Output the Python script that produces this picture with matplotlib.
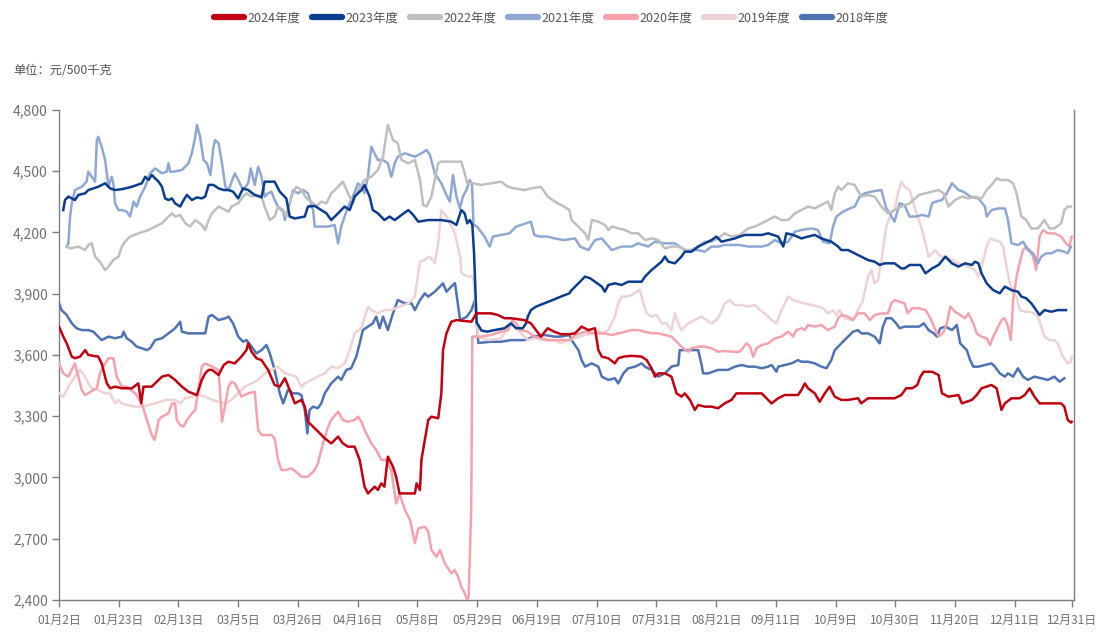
import matplotlib
matplotlib.use("Agg")
import matplotlib.pyplot as plt
from matplotlib.lines import Line2D
from matplotlib.ticker import FuncFormatter

plt.rcParams['font.family'] = ['Noto Sans CJK SC', 'DejaVu Sans']

# x axis: day index on the category axis (tick every 21 days)
tick_pos = [0, 21, 42, 63, 84, 105, 126, 147, 168, 189, 210, 231, 252, 273, 294, 315, 336, 356]
tick_labels = ["01月2日", "01月23日", "02月13日", "03月5日", "03月26日", "04月16日", "05月8日",
               "05月29日", "06月19日", "07月10日", "07月31日", "08月21日", "09月11日", "10月9日",
               "10月30日", "11月20日", "12月11日", "12月31日"]
y_ticks = [2400, 2700, 3000, 3300, 3600, 3900, 4200, 4500, 4800]

names = ["2024年度", "2023年度", "2022年度", "2021年度", "2020年度", "2019年度", "2018年度"]
colors = ["#C00010", "#0B3D8E", "#BFBFBF", "#8EA8D3", "#F4A2AC", "#EDD3D5", "#4E72B2"]

y2024_x = [0, 1.5, 2.7, 4.5, 5.6, 7.4, 9.2, 10.3, 13.8, 15.0, 16.8, 18.0, 19.7, 22.1, 25.6, 27.9, 28.9, 29.7,
           32.6, 36.2, 38.5, 40.8, 43.2, 45.5, 48.5, 50.2, 51.4, 52.6, 53.8, 56.1, 57.9, 59.6,
           61.8, 64.1, 65.9, 66.5, 67.7, 69.4, 71.2, 73.5, 75.8, 77.6, 79.4, 81.1, 82.9, 85.2, 86.4, 87.5,
           90.5, 93.4, 95.7, 98.1, 99.8, 101.6, 103.9, 105.7, 107.4, 108.6, 111.0, 112.1, 113.3, 114.4,
           115.6, 117.4, 118.5, 119.7, 120.4, 125.1, 125.7, 126.9, 127.4, 129.8, 130.9, 133.3, 134.4,
           135.0, 136.2, 137.9, 139.7, 145.0, 146.7, 151.9, 154.3, 156.6, 158.9, 163.6, 165.9, 167.7,
           169.4, 171.8, 174.1, 176.4, 179.4, 181.4, 183.7, 186.1, 188.4, 189.6, 190.8, 193.1, 195.4,
           196.6, 198.4, 201.3, 204.8, 206.6, 208.3, 209.5, 210.7, 213.0, 215.3, 217.1, 218.8, 220.0,
           221.8, 223.5, 224.7, 227.0, 229.4, 231.7, 234.0, 236.4, 238.1, 239.9, 242.3, 244.6, 247.0,
           249.3, 250.5, 252.8, 255.1, 259.8, 261.0, 262.2, 263.3, 265.7, 267.4, 269.2, 270.9, 272.7,
           275.0, 277.4, 280.9, 282.0, 284.4, 287.9, 290.2, 293.7, 296.1, 297.8, 299.9, 301.7, 302.8,
           304.0, 306.9, 309.2, 310.4, 312.7, 316.2, 317.4, 320.9, 322.6, 324.3, 327.8, 329.6, 331.3,
           332.5, 334.8, 337.7, 339.5, 341.2, 342.9, 344.7, 346.4, 349.3, 352.3, 353.4, 354.6, 355.7, 356]
y2024_v = [3739, 3690, 3657, 3592, 3584, 3592, 3624, 3600, 3592, 3559, 3461, 3437, 3445, 3437, 3437, 3461, 3363, 3445,
           3445, 3494, 3502, 3478, 3445, 3420, 3404, 3478, 3510, 3527, 3527, 3502, 3551, 3567,
           3559, 3592, 3624, 3657, 3616, 3584, 3575, 3527, 3453, 3445, 3486, 3429, 3363, 3380, 3347, 3273,
           3233, 3192, 3167, 3200, 3167, 3151, 3151, 3086, 2955, 2922, 2955, 2939, 2971, 2955,
           3102, 3053, 3004, 2922, 2922, 2922, 2971, 2939, 3086, 3282, 3298, 3290, 3412,
           3624, 3706, 3763, 3771, 3763, 3804, 3804, 3796, 3780, 3780, 3771, 3755, 3722,
           3690, 3731, 3714, 3702, 3702, 3706, 3739, 3722, 3731, 3624, 3592, 3584, 3559,
           3584, 3592, 3596, 3592, 3575, 3535, 3494, 3510, 3510, 3494, 3412, 3396, 3412,
           3380, 3331, 3355, 3347, 3347, 3339, 3363, 3380, 3412, 3412, 3412, 3412, 3412,
           3380, 3363, 3388, 3404, 3404, 3429, 3461, 3437, 3412, 3371, 3412, 3445, 3396,
           3380, 3380, 3388, 3363, 3388, 3388, 3388, 3388, 3404, 3437, 3437, 3453, 3494,
           3518, 3518, 3502, 3412, 3396, 3404, 3363, 3380, 3404, 3437, 3453, 3437, 3331,
           3363, 3388, 3388, 3404, 3437, 3396, 3363, 3363, 3363, 3363, 3347, 3282, 3269, 3273]

y2023_x = [1.5, 2.1, 3.3, 4.5, 5.6, 6.8, 9.2, 10.3, 12.1, 13.8, 16.2, 18.0, 19.7, 22.1, 25.6, 29.1, 30.3, 31.5,
           32.6, 33.8, 35.0, 36.2, 37.3, 38.5, 39.7, 40.8, 42.6, 43.8, 45.0, 46.7, 48.5, 50.2, 51.4, 52.6,
           54.3, 56.1, 57.9, 59.6, 61.2, 63.0, 64.7, 66.5, 68.8, 71.2, 72.3, 75.8, 77.6, 79.9, 81.1, 82.9,
           86.4, 87.5, 89.9, 92.2, 94.0, 95.7, 98.1, 100.4, 102.2, 103.9, 106.3, 107.4, 109.2, 110.3,
           112.1, 114.4, 116.2, 118.0, 119.7, 120.4, 122.8, 124.5, 126.3, 129.8, 134.4, 137.9, 139.7,
           141.4, 142.6, 143.5, 144.4, 145.3, 145.9, 146.8, 148.5, 150.5, 153.1, 156.6, 158.9, 160.7,
           163.0, 164.2, 164.8, 165.9, 167.7, 170.6, 173.5, 176.4, 179.4, 180.2, 182.6, 184.9, 186.7,
           188.4, 190.8, 191.9, 193.1, 195.4, 197.8, 200.1, 204.8, 206.0, 208.3, 211.8, 213.0, 214.2,
           216.5, 218.8, 220.0, 222.3, 224.7, 227.0, 229.4, 231.1, 232.9, 235.2, 237.6, 239.3, 241.1,
           244.6, 247.0, 249.3, 252.8, 254.6, 255.7, 258.1, 261.0, 263.3, 265.7, 268.0, 271.5, 273.9,
           275.0, 277.4, 279.7, 282.0, 284.4, 286.7, 288.5, 290.2, 293.7, 296.1, 297.2, 299.0, 302.8,
           304.6, 306.9, 309.2, 311.6, 313.9, 316.2, 318.5, 320.9, 322.0, 323.2, 324.3, 326.1, 328.4,
           330.7, 332.5, 334.8, 337.1, 338.3, 340.0, 341.8, 343.5, 344.7, 346.4, 348.8, 351.1, 352.9, 354.0]
y2023_v = [4310, 4359, 4376, 4367, 4359, 4384, 4392, 4408, 4416, 4424, 4441, 4416, 4408, 4412, 4424, 4441, 4473, 4457,
           4482, 4465, 4449, 4424, 4367, 4359, 4367, 4343, 4327, 4359, 4384, 4359, 4372, 4367, 4376, 4433,
           4433, 4416, 4408, 4408, 4400, 4367, 4416, 4408, 4384, 4372, 4449, 4449, 4400, 4367, 4278, 4269,
           4278, 4327, 4330, 4310, 4294, 4261, 4294, 4327, 4310, 4376, 4408, 4433, 4376, 4310,
           4294, 4261, 4278, 4261, 4278, 4286, 4310, 4286, 4253, 4261, 4261, 4253, 4237,
           4310, 4294, 4245, 4261, 4237, 4100, 3760, 3720, 3714, 3722, 3731, 3755, 3731,
           3731, 3755, 3788, 3820, 3837, 3853, 3869, 3886, 3902, 3918, 3951, 3984, 3976,
           3959, 3935, 3910, 3943, 3951, 3943, 3959, 3959, 3984, 4016, 4057, 4082, 4057,
           4049, 4082, 4106, 4106, 4131, 4147, 4163, 4180, 4155, 4163, 4171, 4180, 4188,
           4188, 4188, 4196, 4180, 4131, 4196, 4188, 4171, 4180, 4188, 4171, 4155, 4131,
           4114, 4114, 4098, 4082, 4065, 4057, 4041, 4049, 4049, 4024, 4024, 4041, 4041,
           4000, 4024, 4041, 4082, 4049, 4033, 4049, 4041, 4057, 4049, 4000, 3951, 3918,
           3902, 3935, 3918, 3910, 3886, 3878, 3853, 3820, 3796, 3820, 3812, 3820, 3820, 3820]

y2022_x = [2.7, 3.9, 6.8, 9.2, 10.3, 11.5, 12.7, 14.4, 16.2, 17.4, 19.1, 20.9, 22.1, 23.2, 25.0, 27.9, 31.5, 33.8,
           36.2, 38.5, 39.7, 40.8, 42.6, 44.4, 46.1, 47.9, 50.2, 51.4, 52.6, 53.8, 56.1, 58.5, 59.6,
           60.6, 63.0, 64.7, 65.9, 67.7, 69.4, 71.2, 72.3, 74.1, 75.8, 77.0, 78.8, 79.9, 81.7, 83.4, 85.2,
           87.0, 88.7, 90.5, 92.2, 94.0, 95.7, 98.1, 99.8, 101.6, 103.3, 105.1, 107.4, 109.8, 112.1,
           113.9, 115.6, 117.4, 119.1, 120.4, 122.8, 125.1, 126.9, 128.0, 129.2, 130.9, 133.3, 134.4,
           141.4, 142.6, 143.5, 145.5, 148.4, 151.9, 155.4, 157.8, 160.1, 163.6, 165.9, 169.4, 171.8,
           173.5, 175.3, 177.6, 179.4, 180.2, 181.4, 183.2, 184.9, 186.1, 187.3, 189.6, 191.9, 193.1,
           194.3, 196.6, 199.0, 201.3, 203.6, 206.0, 208.3, 210.7, 213.0, 215.3, 217.7, 220.0, 222.3,
           224.7, 227.0, 229.4, 231.7, 234.0, 236.4, 239.3, 242.3, 244.6, 247.0, 249.3, 251.6, 254.0,
           256.3, 258.7, 261.0, 263.3, 265.7, 268.0, 270.3, 271.5, 272.7, 273.9, 275.0, 277.4, 279.7,
           282.0, 284.4, 286.7, 289.1, 291.4, 293.7, 296.1, 299.0, 302.3, 304.6, 306.9, 309.2, 311.0,
           312.7, 315.0, 317.4, 319.7, 322.0, 324.3, 326.1, 327.8, 329.6, 331.3, 333.6, 335.4, 336.6,
           338.3, 340.0, 341.8, 344.1, 346.4, 348.2, 349.9, 352.3, 353.4, 354.6, 355.7]
y2022_v = [4131, 4122, 4131, 4114, 4139, 4147, 4082, 4057, 4016, 4033, 4065, 4082, 4131, 4155, 4180, 4196, 4212, 4229,
           4245, 4278, 4294, 4278, 4286, 4245, 4229, 4261, 4237, 4212, 4261, 4294, 4327, 4310, 4302,
           4327, 4343, 4376, 4392, 4376, 4384, 4376, 4327, 4261, 4278, 4327, 4310, 4278, 4376, 4424, 4408,
           4367, 4351, 4327, 4351, 4343, 4392, 4424, 4449, 4392, 4343, 4408, 4457, 4473, 4506,
           4571, 4727, 4653, 4637, 4555, 4539, 4555, 4457, 4335, 4327, 4376, 4539, 4547,
           4547, 4490, 4441, 4441, 4433, 4441, 4449, 4424, 4416, 4408, 4416, 4424, 4376,
           4359, 4343, 4327, 4310, 4261, 4245, 4220, 4196, 4163, 4261, 4253, 4237, 4212,
           4229, 4220, 4212, 4196, 4196, 4163, 4171, 4163, 4122, 4131, 4131, 4114, 4114,
           4131, 4155, 4155, 4171, 4196, 4180, 4188, 4220, 4229, 4245, 4261, 4278, 4261,
           4261, 4294, 4310, 4327, 4318, 4335, 4351, 4310, 4392, 4424, 4408, 4441, 4433,
           4376, 4384, 4376, 4327, 4294, 4310, 4327, 4343, 4384, 4392, 4400, 4408, 4392,
           4327, 4359, 4376, 4367, 4376, 4367, 4408, 4433, 4465, 4457, 4457, 4441, 4392,
           4278, 4261, 4220, 4220, 4261, 4220, 4220, 4245, 4310, 4327, 4327]

y2021_x = [2.7, 3.3, 3.9, 4.5, 5.6, 8.0, 9.7, 10.3, 11.5, 12.7, 13.3, 13.8, 15.0, 16.2, 17.4, 18.5, 19.1, 19.7,
           20.9, 22.1, 23.8, 25.0, 26.2, 27.3, 28.5, 30.3, 32.0, 33.8, 36.2, 37.9, 38.5, 39.1, 40.3, 43.2,
           45.5, 46.7, 47.9, 48.5, 49.6, 50.8, 52.0, 53.2, 54.3, 54.9, 56.1, 57.3, 58.5, 59.6, 61.8, 63.0,
           64.7, 66.5, 67.4, 68.8, 70.0, 71.2, 72.3, 73.5, 74.7, 75.8, 77.0, 78.8, 79.4, 80.5, 82.3, 84.0,
           85.8, 87.5, 89.3, 89.9, 92.2, 94.6, 96.9, 98.1, 99.2, 100.4, 101.6, 103.3, 105.1, 106.3, 107.4,
           108.6, 109.8, 110.9, 112.1, 113.9, 115.6, 116.8, 118.0, 119.1, 121.6, 125.1, 127.4, 129.2,
           130.4, 132.1, 134.4, 136.2, 137.4, 138.5, 139.7, 140.9, 142.0, 143.2, 144.4, 145.2, 145.7,
           147.0, 149.6, 151.4, 152.5, 155.4, 158.4, 160.7, 162.4, 164.2, 165.9, 167.1, 168.9, 171.8,
           174.1, 177.6, 181.4, 183.2, 186.1, 188.4, 190.8, 194.3, 197.8, 201.3, 203.6, 207.1, 209.5,
           213.0, 216.5, 220.0, 224.7, 227.0, 229.4, 231.7, 234.0, 236.4, 239.3, 242.3, 247.0, 249.3,
           251.6, 254.0, 256.3, 258.7, 261.0, 264.5, 266.8, 268.6, 270.9, 272.1, 273.3, 275.6, 278.0,
           279.7, 281.5, 283.2, 285.6, 289.1, 290.8, 292.0, 293.7, 295.5, 297.2, 299.0, 301.1, 303.4,
           305.7, 306.9, 308.1, 310.4, 312.1, 313.9, 316.2, 317.9, 320.3, 323.2, 325.5, 326.1, 327.8,
           330.2, 332.5, 333.6, 334.8, 337.1, 338.9, 340.6, 342.4, 344.1, 345.3, 347.0, 348.8, 351.1,
           353.4, 354.6, 355.7]
y2021_v = [4131, 4147, 4278, 4343, 4408, 4424, 4449, 4498, 4473, 4449, 4653, 4669, 4620, 4555, 4424, 4473, 4441, 4343,
           4310, 4310, 4302, 4278, 4351, 4327, 4376, 4424, 4490, 4514, 4490, 4498, 4539, 4498, 4498, 4506,
           4539, 4588, 4669, 4727, 4669, 4555, 4539, 4482, 4620, 4653, 4637, 4539, 4424, 4408, 4490, 4457,
           4408, 4441, 4514, 4433, 4522, 4473, 4376, 4392, 4400, 4359, 4327, 4302, 4261, 4310, 4408, 4392,
           4408, 4392, 4310, 4229, 4229, 4229, 4237, 4147, 4229, 4278, 4327, 4376, 4441, 4424, 4392,
           4473, 4620, 4588, 4555, 4555, 4539, 4473, 4539, 4571, 4588, 4571, 4588, 4604,
           4580, 4490, 4441, 4384, 4351, 4482, 4376, 4318, 4376, 4408, 4457, 4433, 4240,
           4228, 4180, 4131, 4180, 4188, 4196, 4229, 4237, 4245, 4253, 4188, 4180, 4180,
           4171, 4163, 4171, 4131, 4114, 4163, 4171, 4114, 4131, 4131, 4147, 4131, 4155,
           4147, 4147, 4114, 4114, 4106, 4131, 4131, 4139, 4139, 4139, 4131, 4131, 4139,
           4163, 4147, 4155, 4204, 4212, 4220, 4212, 4155, 4147, 4229, 4278, 4302, 4318,
           4327, 4376, 4392, 4400, 4408, 4318, 4294, 4253, 4343, 4335, 4278, 4278, 4286,
           4278, 4343, 4351, 4359, 4392, 4441, 4408, 4400, 4376, 4367, 4327, 4278, 4310,
           4318, 4318, 4261, 4147, 4139, 4155, 4114, 4098, 4049, 4082, 4098, 4098, 4114,
           4106, 4098, 4131]

y2020_x = [0, 1.5, 3.3, 5.0, 5.6, 6.8, 8.0, 9.2, 10.3, 12.1, 13.3, 14.4, 15.6, 17.4, 19.1, 20.3, 22.1, 23.8,
           26.8, 29.1, 30.9, 32.6, 33.6, 34.4, 35.0, 36.2, 38.5, 39.7, 40.8, 41.4, 42.6, 43.8, 45.0, 46.7,
           47.9, 50.2, 51.4, 53.8, 56.1, 57.3, 58.5, 59.6, 60.6, 61.8, 63.0, 64.1, 66.5, 68.8, 70.0, 71.2,
           74.7, 75.8, 77.0, 78.2, 79.9, 81.7, 84.0, 85.2, 87.5, 89.9, 91.0, 92.8, 94.6, 95.7, 98.1, 99.8,
           101.6, 103.9, 105.1, 106.3, 107.4, 109.8, 111.5, 113.3, 115.0, 116.8, 118.5, 119.7, 121.6,
           123.4, 125.1, 126.3, 128.6, 129.8, 130.9, 132.7, 133.9, 135.6, 137.9, 139.1, 140.3, 141.4,
           142.6, 143.5, 144.0, 144.9, 145.3, 146.7, 148.4, 151.9, 155.4, 157.8, 159.5, 160.7, 162.4,
           164.8, 167.1, 169.4, 171.8, 176.4, 179.4, 181.4, 184.9, 188.4, 191.9, 194.3, 196.6, 199.0,
           201.3, 203.6, 206.0, 208.3, 210.7, 213.0, 215.3, 217.7, 219.4, 221.2, 222.3, 224.7, 227.0,
           229.4, 231.7, 234.0, 236.4, 239.3, 241.7, 242.9, 244.0, 245.2, 247.0, 249.3, 251.6, 254.0,
           256.3, 258.1, 259.2, 261.0, 262.2, 263.3, 265.7, 268.0, 270.3, 272.7, 273.9, 275.0, 277.4,
           279.1, 280.9, 283.2, 285.0, 286.7, 289.1, 291.4, 292.6, 293.7, 295.5, 297.2, 298.4, 299.9,
           302.3, 304.6, 306.3, 308.1, 309.2, 311.0, 312.1, 313.3, 315.0, 316.8, 318.5, 319.7, 321.4,
           322.6, 324.3, 326.1, 327.3, 328.4, 329.6, 331.3, 332.5, 333.6, 334.6, 335.4, 336.6, 337.7,
           338.9, 340.0, 341.2, 342.4, 343.5, 344.7, 345.9, 347.6, 349.9, 352.3, 354.0, 355.2, 356]
y2020_v = [3559, 3510, 3494, 3543, 3559, 3494, 3429, 3404, 3412, 3429, 3437, 3510, 3543, 3584, 3584, 3494, 3445, 3445,
           3412, 3363, 3282, 3208, 3184, 3233, 3282, 3298, 3314, 3363, 3363, 3282, 3257, 3249, 3282, 3314,
           3331, 3543, 3559, 3543, 3527, 3273, 3363, 3445, 3469, 3461, 3429, 3396, 3412, 3420, 3233, 3208,
           3208, 3192, 3086, 3037, 3037, 3045, 3020, 3004, 3004, 3037, 3069, 3167, 3249, 3282, 3322, 3282,
           3273, 3282, 3298, 3273, 3233, 3167, 3135, 3086, 3086, 3037, 2873, 2922, 2841,
           2792, 2678, 2751, 2759, 2735, 2645, 2612, 2645, 2580, 2531, 2547, 2514, 2465,
           2433, 2400, 2416, 2841, 3690, 3690, 3690, 3698, 3714, 3722, 3771, 3755, 3722,
           3714, 3690, 3682, 3673, 3673, 3673, 3698, 3714, 3706, 3706, 3698, 3706, 3714,
           3722, 3722, 3714, 3706, 3706, 3698, 3690, 3657, 3633, 3616, 3633, 3641, 3641,
           3633, 3616, 3620, 3616, 3616, 3657, 3641, 3592, 3633, 3649, 3657, 3682, 3690,
           3714, 3690, 3722, 3731, 3722, 3747, 3739, 3747, 3722, 3739, 3780, 3796, 3788,
           3771, 3804, 3804, 3771, 3796, 3804, 3804, 3853, 3869, 3861, 3853, 3804, 3829,
           3829, 3820, 3780, 3722, 3690, 3714, 3755, 3837, 3812, 3796, 3780, 3804, 3755,
           3706, 3690, 3682, 3649, 3690, 3722, 3771, 3780, 3739, 3674, 3869, 3984, 4049,
           4114, 4131, 4114, 4082, 4016, 4180, 4212, 4196, 4196, 4180, 4147, 4131, 4180]

y2019_x = [0, 1.5, 3.3, 5.6, 7.4, 9.2, 10.3, 12.1, 13.8, 16.2, 18.0, 19.7, 20.9, 22.1, 23.8, 26.8, 29.1, 31.5,
           33.8, 37.3, 40.8, 42.6, 44.4, 46.7, 49.1, 51.4, 53.8, 56.1, 58.5, 60.6, 63.0, 65.3, 67.7, 70.0,
           72.3, 74.7, 77.0, 79.4, 81.7, 83.4, 85.2, 86.4, 88.7, 91.0, 93.4, 95.7, 98.1, 100.4, 102.2, 103.9,
           106.3, 108.6, 109.8, 112.1, 114.4, 116.8, 119.7, 122.8, 125.1, 126.9, 128.6, 129.8, 130.9,
           132.1, 133.3, 134.4, 136.3, 139.2, 141.0, 141.5, 143.8, 145.6, 146.6, 147.3, 150.8, 155.4,
           158.9, 161.3, 164.8, 167.1, 170.6, 174.1, 176.4, 179.4, 184.9, 188.4, 189.6, 190.8, 193.1,
           195.4, 196.6, 197.8, 199.5, 201.3, 203.0, 204.2, 205.4, 206.6, 208.3, 210.1, 211.8, 213.6,
           215.3, 216.5, 217.7, 218.8, 221.2, 223.5, 225.9, 227.6, 229.4, 231.1, 232.3, 234.0, 235.8,
           237.6, 239.9, 242.3, 244.6, 246.4, 248.1, 250.5, 252.2, 254.0, 256.3, 258.1, 259.8, 262.2,
           264.5, 266.8, 268.6, 270.3, 272.1, 273.3, 274.4, 276.2, 279.1, 280.9, 282.6, 284.4, 285.6,
           286.7, 287.9, 289.1, 290.8, 292.6, 293.7, 294.9, 296.1, 297.2, 299.0, 301.1, 302.3, 303.4,
           304.6, 305.7, 306.9, 308.1, 309.2, 310.4, 312.1, 313.9, 316.2, 317.9, 319.7, 322.0, 323.2,
           324.3, 326.1, 327.3, 329.0, 330.7, 331.9, 333.1, 334.2, 335.4, 336.6, 337.7, 339.5, 341.2,
           342.9, 344.1, 345.3, 346.4, 348.2, 349.9, 351.1, 352.9, 354.6, 355.7, 356]
y2019_v = [3412, 3396, 3445, 3494, 3527, 3494, 3461, 3429, 3429, 3412, 3412, 3363, 3380, 3363, 3355, 3347, 3347, 3355,
           3363, 3380, 3380, 3363, 3388, 3396, 3404, 3396, 3380, 3371, 3363, 3380, 3412, 3445, 3461, 3478,
           3510, 3527, 3543, 3510, 3502, 3494, 3445, 3461, 3478, 3494, 3510, 3543, 3535, 3559, 3624, 3706,
           3731, 3837, 3820, 3804, 3820, 3820, 3837, 3853, 3886, 4057, 4065, 4082, 4073,
           4049, 4147, 4310, 4277, 4195, 4082, 4001, 3984, 3984, 3800, 3690, 3673, 3682,
           3755, 3722, 3673, 3682, 3673, 3673, 3657, 3673, 3698, 3706, 3722, 3706, 3722,
           3788, 3853, 3886, 3886, 3894, 3910, 3918, 3853, 3804, 3788, 3796, 3755, 3755,
           3722, 3804, 3755, 3722, 3755, 3771, 3788, 3771, 3755, 3771, 3796, 3853, 3869,
           3845, 3845, 3837, 3845, 3820, 3804, 3771, 3755, 3820, 3886, 3869, 3861, 3853,
           3845, 3837, 3829, 3804, 3820, 3796, 3820, 3780, 3771, 3820, 3869, 3984, 4016,
           3951, 3967, 4065, 4229, 4294, 4310, 4392, 4449, 4424, 4408, 4310, 4261, 4212,
           4147, 4082, 4098, 4114, 4090, 4082, 4073, 4065, 4049, 4041, 4033, 4016, 3984,
           4033, 4131, 4171, 4163, 4155, 4131, 4033, 3951, 3902, 3886, 3820, 3812, 3812,
           3804, 3788, 3739, 3690, 3673, 3673, 3657, 3592, 3559, 3567, 3592]

y2018_x = [0, 0.9, 2.7, 4.5, 6.2, 8.0, 10.3, 12.1, 13.8, 15.0, 17.4, 19.7, 22.1, 22.7, 23.8, 25.6, 27.3, 29.1,
           30.9, 32.0, 33.8, 36.2, 38.5, 40.8, 42.6, 43.2, 45.5, 47.9, 51.4, 52.6, 53.8, 56.1, 58.5, 59.6,
           61.2, 63.0, 64.7, 65.9, 67.7, 69.4, 71.2, 72.9, 74.1, 75.8, 77.6, 78.8, 80.5, 82.3, 84.0, 85.2,
           86.4, 87.3, 88.1, 89.3, 91.0, 92.2, 93.4, 95.7, 98.1, 99.2, 101.0, 102.7, 104.5, 105.7, 106.8,
           108.6, 110.3, 111.5, 112.7, 113.9, 115.6, 117.4, 119.1, 121.6, 123.9, 125.1, 126.9, 128.6,
           129.8, 132.1, 135.0, 136.2, 137.9, 139.2, 141.0, 143.3, 145.0, 146.2, 147.4, 151.9, 155.4,
           158.9, 163.6, 167.1, 170.6, 174.1, 176.4, 179.4, 180.2, 182.6, 183.7, 184.9, 187.3, 189.6,
           190.8, 193.1, 195.4, 196.6, 198.4, 200.1, 202.5, 204.8, 206.0, 207.1, 208.3, 210.7, 213.0,
           215.3, 217.7, 218.2, 224.7, 225.9, 226.4, 228.2, 231.7, 235.2, 237.6, 239.9, 242.3, 244.6,
           247.0, 249.3, 250.5, 252.2, 252.8, 255.1, 257.5, 259.8, 261.0, 263.3, 265.7, 268.0, 269.8,
           271.5, 272.7, 275.0, 277.4, 279.1, 280.9, 282.0, 284.4, 286.7, 288.5, 289.6, 290.8, 292.6,
           294.3, 295.5, 297.2, 299.9, 302.3, 304.0, 305.7, 307.5, 308.6, 309.8, 311.6, 313.9, 315.6,
           316.8, 317.9, 319.1, 320.3, 321.4, 323.2, 325.5, 327.8, 329.0, 330.7, 332.5, 333.6, 335.4,
           337.1, 338.9, 340.6, 342.9, 345.3, 347.6, 349.9, 351.7, 353.4]
y2018_v = [3853, 3820, 3796, 3755, 3731, 3722, 3722, 3714, 3690, 3673, 3690, 3682, 3690, 3714, 3682, 3665, 3641, 3633,
           3624, 3633, 3673, 3682, 3706, 3731, 3763, 3714, 3706, 3706, 3706, 3788, 3796, 3771, 3780, 3788,
           3755, 3690, 3665, 3673, 3641, 3608, 3624, 3649, 3608, 3527, 3412, 3363, 3429, 3412, 3412, 3404,
           3331, 3216, 3331, 3347, 3339, 3363, 3412, 3461, 3494, 3478, 3527, 3535, 3592, 3657, 3722,
           3739, 3755, 3788, 3731, 3788, 3722, 3804, 3869, 3853, 3853, 3820, 3869, 3902,
           3886, 3910, 3951, 3910, 3935, 3952, 3771, 3787, 3820, 3869, 3659, 3665, 3665,
           3673, 3673, 3690, 3698, 3690, 3690, 3698, 3673, 3624, 3575, 3543, 3559, 3543,
           3494, 3478, 3486, 3461, 3510, 3535, 3543, 3559, 3543, 3535, 3527, 3494, 3510,
           3543, 3551, 3624, 3624, 3551, 3510, 3510, 3527, 3527, 3543, 3551, 3543, 3543,
           3535, 3543, 3551, 3518, 3543, 3551, 3559, 3575, 3567, 3567, 3559, 3543, 3535,
           3575, 3624, 3657, 3690, 3714, 3722, 3706, 3706, 3690, 3657, 3739, 3780, 3780,
           3755, 3731, 3739, 3739, 3739, 3755, 3722, 3706, 3690, 3731, 3739, 3722, 3747,
           3657, 3641, 3624, 3575, 3543, 3543, 3551, 3559, 3543, 3510, 3494, 3510, 3494,
           3535, 3494, 3478, 3494, 3486, 3478, 3494, 3469, 3486]

series = [(y2024_x, y2024_v), (y2023_x, y2023_v), (y2022_x, y2022_v), (y2021_x, y2021_v),
          (y2020_x, y2020_v), (y2019_x, y2019_v), (y2018_x, y2018_v)]

fig = plt.figure(figsize=(10.97, 6.35), dpi=100)
ax = fig.add_axes([59 / 1097, 1 - 600 / 635, (1074 - 59) / 1097, 490 / 635])

# draw oldest first so 2024 is on top
for i in reversed(range(len(series))):
    xs, vs = series[i]
    ax.plot(xs, vs, color=colors[i], lw=1.8, solid_joinstyle='round', zorder=3 + (len(series) - i))

ax.set_xlim(0, 356.8)
ax.set_ylim(2400, 4800)
ax.set_yticks(y_ticks)
ax.yaxis.set_major_formatter(FuncFormatter(lambda v, p: f"{int(v):,}"))
ax.set_xticks(tick_pos)
ax.set_xticklabels(tick_labels)

axis_color = "#7F7F7F"
text_color = "#707070"
for side in ["left", "bottom", "right"]:
    ax.spines[side].set_color(axis_color)
    ax.spines[side].set_linewidth(1.0)
ax.spines["top"].set_visible(False)
ax.tick_params(axis='both', colors=axis_color, labelcolor=text_color,
               length=5, width=1.0, direction='out')
ax.tick_params(axis='x', pad=5, labelsize=8.6)
ax.tick_params(axis='y', pad=3, labelsize=10)

fig.text(13 / 1097, 1 - 70 / 635, "单位：元/500千克", fontsize=8.8, color="#555555",
         va='center', ha='left')

handles = [Line2D([0], [0], color=c, lw=4.5, solid_capstyle='round') for c in colors]
leg = fig.legend(handles, names, loc='center', bbox_to_anchor=(551 / 1097, 1 - 18 / 635), ncol=7,
                 frameon=False, fontsize=9, handlelength=2.4, handletextpad=0.3, columnspacing=0.9,
                 labelcolor="#555555")

fig.savefig("out.png", dpi=100)
